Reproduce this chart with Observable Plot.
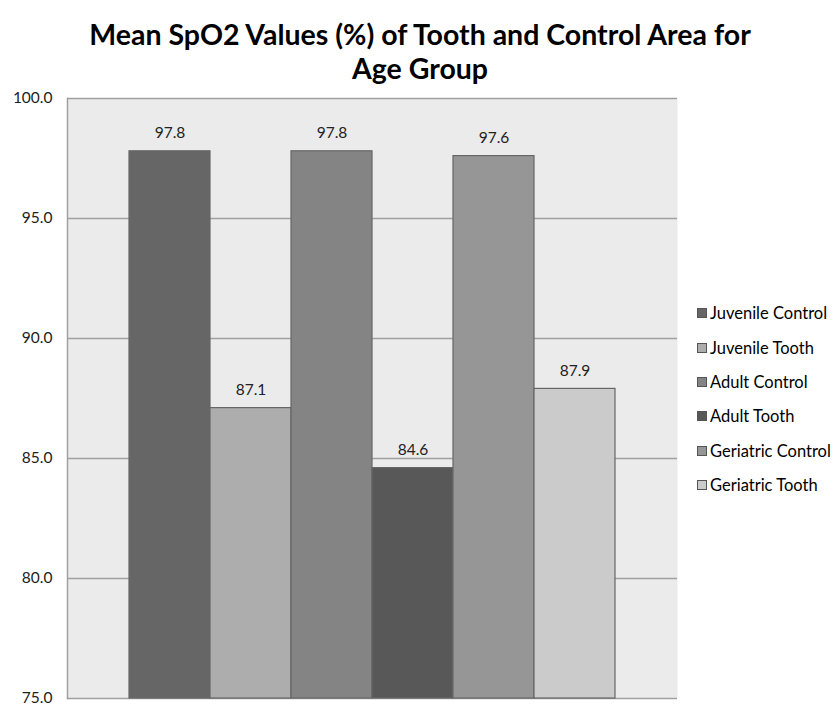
<!DOCTYPE html>
<html>
<head>
<meta charset="utf-8">
<script src="https://cdn.jsdelivr.net/npm/d3@7"></script>
<script src="https://cdn.jsdelivr.net/npm/@observablehq/plot@0.6"></script>
<style>
  body { margin: 0; background: #fff; font-family: Lato, "Open Sans", sans-serif; }
  #wrap { position: relative; width: 840px; height: 705px; overflow: hidden; }
  #title { position: absolute; left: 0; top: 17px; width: 840px; text-align: center; font-weight: bold; font-size: 28.5px; line-height: 34px; color: #000; }
  #chart { position: absolute; left: 0; top: 85px; }
  #legend { position: absolute; left: 697px; top: 296px; font-size: 16.5px; color: #000; }
  .item { display: flex; align-items: center; height: 34.4px; }
  .sw { width: 10px; height: 10px; border: 1px solid #555; margin-right: 3px; box-sizing: border-box; }
</style>
</head>
<body>
<div id="wrap">
  <div id="title">Mean SpO2 Values (%) of Tooth and Control Area for<br>Age Group</div>
  <div id="chart"></div>
  <div id="legend"></div>
</div>
<script>
const series = ["Juvenile Control", "Juvenile Tooth", "Adult Control", "Adult Tooth", "Geriatric Control", "Geriatric Tooth"];
const values = [97.8, 87.1, 97.8, 84.6, 97.6, 87.9];
const colors = ["#666666", "#adadad", "#848484", "#585858", "#969696", "#cbcbcb"];
const yTicks = [75, 80, 85, 90, 95, 100];

const data = series.map((s, i) => ({series: s, value: values[i]}));

const plot = Plot.plot({
  width: 840,
  height: 620,
  marginTop: 13,
  marginBottom: 7,
  marginLeft: 67,
  marginRight: 163,
  style: {fontFamily: "Lato, 'Open Sans', sans-serif", fontSize: "15.5px", color: "#222", overflow: "visible"},
  x: {domain: series, paddingInner: 0, paddingOuter: 0.72, axis: null},
  y: {domain: [75, 100], ticks: yTicks, tickFormat: d3.format(".1f"), tickSize: 0, tickPadding: 15, label: null},
  color: {domain: series, range: colors},
  marks: [
    Plot.frame({fill: "#ebebeb"}),
    Plot.ruleY(yTicks, {stroke: "#a0a0a0", strokeWidth: 1.5}),
    Plot.frame({anchor: "left", stroke: "#a0a0a0", strokeWidth: 1.5}),
    Plot.barY(data, {x: "series", y1: 75, y2: "value", fill: "series", stroke: "#666", strokeWidth: 1.2}),
    Plot.text(data, {x: "series", y: "value", text: d => d3.format(".1f")(d.value), dy: -18, fontSize: 15.5, fill: "#222"})
  ]
});
document.getElementById("chart").appendChild(plot);

const legend = document.getElementById("legend");
series.forEach((s, i) => {
  const item = document.createElement("div");
  item.className = "item";
  const sw = document.createElement("div");
  sw.className = "sw";
  sw.style.background = colors[i];
  const label = document.createElement("span");
  label.textContent = s;
  item.appendChild(sw);
  item.appendChild(label);
  legend.appendChild(item);
});
</script>
</body>
</html>
